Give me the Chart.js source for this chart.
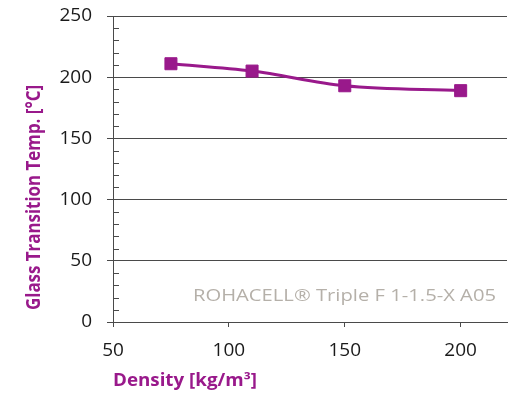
<!DOCTYPE html>
<html>
<head>
<meta charset="utf-8">
<script src="https://cdn.jsdelivr.net/npm/chart.js@4.4.1/dist/chart.umd.min.js"></script>
<style>
  html, body { margin: 0; padding: 0; background: #fff; }
  #wrap { width: 518px; height: 393px; }
</style>
</head>
<body>
<div id="wrap"><canvas id="myChart" width="518" height="393"></canvas></div>
<script>
// --- data --- //
const densities = [75, 110, 150, 200];
const glassTemps = [211, 205, 193, 189];
const xTicks = [50, 100, 150, 200];
const yTicks = [0, 50, 100, 150, 200, 250];
const xTitle = "Density [kg/m³]";
const yTitle = "Glass Transition Temp. [°C]";
const noteText = "ROHACELL® Triple F 1-1.5-X A05";

const purple = "#99198b";
const gridColor = "#4a4a4a";

// squeeze a text into a target width (the original uses a narrow font)
function fitText(ctx, text, x, y, width) {
  let w = ctx.measureText(text).width;
  ctx.save();
  ctx.translate(x, y);
  ctx.scale(width / w, 1);
  ctx.fillText(text, 0, 0);
  ctx.restore();
}

// --- extras: minor ticks, axis titles, note --- //
const extras = {
  id: "extras",
  afterDraw(chart) {
    const ctx = chart.ctx;
    const yScale = chart.scales.y;
    const area = chart.chartArea;

    ctx.save();
    ctx.strokeStyle = gridColor;
    ctx.lineWidth = 1;
    for (let v = 10; v < 250; v += 10) {
      if (v % 50 === 0) continue;
      let py = Math.round(yScale.getPixelForValue(v)) + 0.5;
      ctx.beginPath();
      ctx.moveTo(area.left, py);
      ctx.lineTo(area.left + 6, py);
      ctx.stroke();
    }

    ctx.fillStyle = "#b5b0a9";
    ctx.font = "16px 'Open Sans'";
    ctx.textBaseline = "alphabetic";
    ctx.textAlign = "left";
    fitText(ctx, noteText, 193, 301, 303);

    ctx.fillStyle = purple;
    ctx.font = "bold 17px 'Open Sans'";
    fitText(ctx, xTitle, 113, 386, 144);

    ctx.font = "bold 19px 'Open Sans'";
    ctx.translate(40, 310);
    ctx.rotate(-Math.PI / 2);
    fitText(ctx, yTitle, 0, 0, 225);
    ctx.restore();
  },
};

const ctx = document.getElementById("myChart");
new Chart(ctx, {
  type: "line",
  data: {
    datasets: [
      {
        data: densities.map((d, i) => ({ x: d, y: glassTemps[i] })),
        borderColor: purple,
        backgroundColor: purple,
        borderWidth: 3,
        cubicInterpolationMode: "monotone",
        pointStyle: "rect",
        pointRadius: 8.5,
        pointBorderWidth: 1,
        pointBackgroundColor: purple,
        pointBorderColor: purple,
      },
    ],
  },
  options: {
    responsive: false,
    animation: false,
    layout: { padding: { top: 16, right: 11, left: 0, bottom: 0 } },
    plugins: {
      legend: { display: false },
      tooltip: { enabled: false },
    },
    scales: {
      x: {
        type: "linear",
        min: 50,
        max: 220,
        afterBuildTicks: (scale) => {
          scale.ticks = xTicks.map((v) => ({ value: v }));
        },
        afterFit: (scale) => {
          scale.height = 71;
          scale.paddingLeft = 0;
          scale.paddingRight = 0;
        },
        grid: {
          drawOnChartArea: false,
          color: gridColor,
          tickLength: 5,
        },
        border: { display: true, color: gridColor },
        ticks: {
          color: "#1a1a1a",
          font: { family: "'Open Sans'", size: 19 },
          padding: 12,
          maxRotation: 0,
        },
      },
      y: {
        min: 0,
        max: 250,
        afterBuildTicks: (scale) => {
          scale.ticks = yTicks.map((v) => ({ value: v }));
        },
        afterFit: (scale) => {
          scale.width = 113;
          scale.paddingTop = 0;
          scale.paddingBottom = 0;
        },
        grid: {
          color: gridColor,
          tickLength: 6,
        },
        border: { display: true, color: gridColor },
        ticks: {
          color: "#1a1a1a",
          font: { family: "'Open Sans'", size: 19 },
          padding: 15,
        },
      },
    },
  },
  plugins: [extras],
});
</script>
</body>
</html>
